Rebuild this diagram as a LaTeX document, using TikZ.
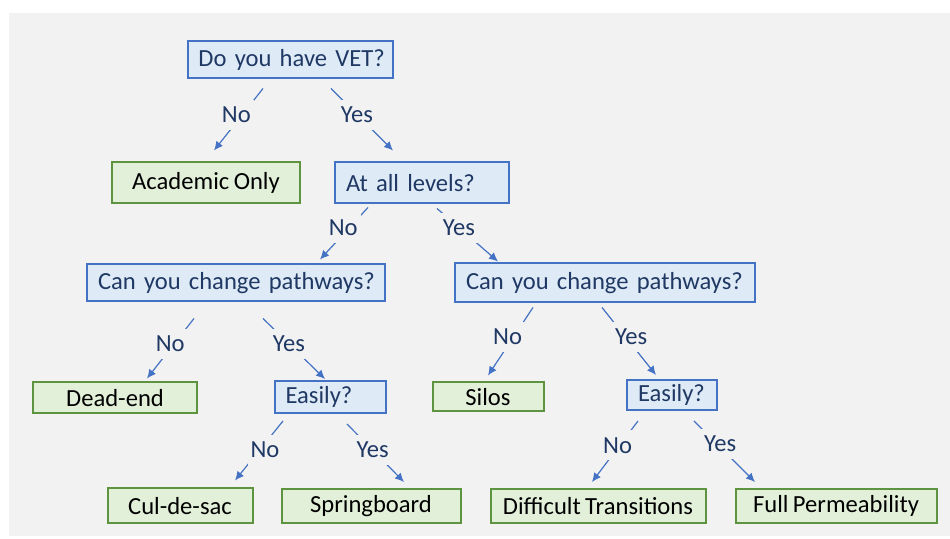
\documentclass[tikz,border=0pt]{standalone}
\usepackage{fontspec}
\setmainfont{Carlito}[WordSpace=0.8]
\usepackage{xcolor}
\usetikzlibrary{calc,arrows.meta}

\definecolor{bgGray}{HTML}{F2F2F2}
\definecolor{qBlue}{HTML}{4472C4}
\definecolor{qFill}{HTML}{DEEBF7}
\definecolor{qText}{HTML}{1F3864}
\definecolor{aGreen}{HTML}{5E9440}
\definecolor{aFill}{HTML}{E2F0D9}

\begin{document}
\begin{tikzpicture}[x=0.5pt,y=-0.5pt]
\tikzset{
	question/.style n args={2}{
		draw=qBlue, fill=qFill, text=qText, line width=1pt,
		font=\fontsize{12.3}{14}\selectfont,
		inner xsep=5.5pt, inner ysep=0pt,
		text width=#1, align=left, minimum height=#2
	}
}

\tikzset{
	answer/.style n args={2}{
		draw=aGreen, fill=aFill, text=black, line width=1pt,
		font=\fontsize{12.3}{14}\selectfont,
		inner sep=0pt, align=center,
		minimum width=#1, minimum height=#2
	}
}

\tikzset{
	link/.style={draw=qBlue, line width=0.6pt, -{Latex[length=4.5pt,width=4.2pt]}},
	lbl/.style={fill=bgGray, text=qText, font=\fontsize{12.3}{14}\selectfont,
		inner sep=1.5pt, minimum height=15pt, pos=0.42}
}

% background
\useasboundingbox (0,0) rectangle (950,539);
\fill[bgGray] (9,13) rectangle (950,536);

% first question
\node[question={91.5pt}{18.5pt}] (vet) at (290,60) {\mbox{Do you have VET?}};

% second row
\node[answer={94pt}{20.5pt}] (acad) at (206,183) {Academic Only};
\node[question={76pt}{20.5pt}] (levels) at (422,183) {\mbox{At all levels?}};

% pathways
\node[question={138pt}{18.5pt}] (changeL) at (236,283) {\mbox{Can you change pathways?}};
\node[question={139pt}{19.5pt}] (changeR) at (605,283) {\mbox{Can you change pathways?}};

% fourth row
\node[answer={82pt}{15.5pt}] (deadend) at (115,398) {Dead-end};
\node[question={44.5pt}{16pt}] (easyL) at (330,397) {\mbox{Easily?}};
\node[answer={55.5pt}{14.5pt}] (silos) at (488,397) {Silos};
\node[question={34pt}{15pt}] (easyR) at (672,395) {\mbox{Easily?}};

% outcomes
\node[answer={72.5pt}{17.5pt}] (culdesac) at (180,506) {Cul-de-sac};
\node[answer={89.5pt}{17pt}] (spring) at (371,506) {Springboard};
\node[answer={107.5pt}{17pt}] (difficult) at (598,506) {Difficult Transitions};
\node[answer={100.5pt}{17pt}] (full) at (836,506) {Full Permeability};

% links
\draw[link] ($(vet.south)+(-27,9)$) -- node[lbl,xshift=-3pt]{No} ($(acad.north)+(8,-11)$);
\draw[link] ($(vet.south)+(41,9)$) -- node[lbl]{Yes} ($(levels.north)+(-29,-11)$);

\draw[link] ($(levels.south)+(-54,3)$) -- node[lbl,pos=0.39,xshift=-3pt]{No} ($(changeL.north)+(84,-4)$);
\draw[link] ($(levels.south)+(15,4)$) -- node[lbl,pos=0.36]{Yes} ($(changeR.north)+(-107,-1)$);

\draw[link] ($(changeL.south)+(-42,16)$) -- node[lbl,xshift=-2pt]{No} ($(deadend.north)+(32,-3)$);
\draw[link] ($(changeL.south)+(27,16)$) -- node[lbl]{Yes} ($(easyL.north)+(-5,-1)$);

\draw[link] ($(changeR.south)+(-72,4)$) -- node[lbl,pos=0.43,xshift=-3pt]{No} ($(silos.north)+(0,-6)$);
\draw[link] ($(changeR.south)+(-3,4)$) -- node[lbl,pos=0.43,xshift=3pt]{Yes} ($(easyR.north)+(-16,-4)$);

\draw[link] ($(easyL.south)+(-47,7)$) -- node[lbl,pos=0.48,xshift=2.5pt]{No} ($(culdesac.north)+(55,-7)$);
\draw[link] ($(easyL.south)+(17,10)$) -- node[lbl,pos=0.45]{Yes} ($(spring.north)+(33,-6)$);

\draw[link] ($(easyR.south)+(-34,10)$) -- node[lbl,pos=0.4,xshift=-1pt]{No} ($(difficult.north)+(-6,-6)$);
\draw[link] ($(easyR.south)+(22,10)$) -- node[lbl,pos=0.38,xshift=1.5pt]{Yes} ($(full.north)+(-81,-6)$);

\end{tikzpicture}
\end{document}
